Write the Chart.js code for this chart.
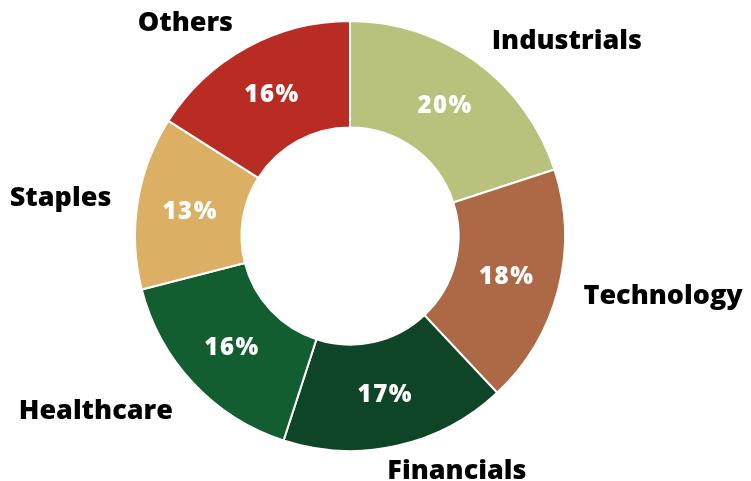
<!DOCTYPE html>
<html>
<head>
<meta charset="utf-8">
<script src="https://cdn.jsdelivr.net/npm/chart.js@4/dist/chart.umd.min.js"></script>
<style>
  html, body { margin: 0; padding: 0; background: #ffffff; }
  #wrap { width: 751px; height: 481px; position: relative; }
</style>
</head>
<body>
<div id="wrap"><canvas id="c" width="751" height="481"></canvas></div>
<script>
const categories = ["Industrials", "Technology", "Financials", "Healthcare", "Staples", "Others"];
const shares = [20, 18, 17, 16, 13, 16];
const sliceColors = ["#b8c27c", "#ad6946", "#0e4526", "#135e31", "#dbaf64", "#b92c24"];

const FONT = '"Open Sans", "Lato", sans-serif';

const labelPlugin = {
  id: 'sliceLabels',
  afterDatasetsDraw(chart) {
    const ctx = chart.ctx;
    const meta = chart.getDatasetMeta(0);
    const data = chart.data.datasets[0].data;
    const total = data.reduce((a, b) => a + b, 0);
    ctx.save();
    meta.data.forEach((arc, i) => {
      const mid = (arc.startAngle + arc.endAngle) / 2;
      const cos = Math.cos(mid), sin = Math.sin(mid);
      const rMid = (arc.innerRadius + arc.outerRadius) / 2;
      ctx.font = '800 24px ' + FONT;
      ctx.letterSpacing = '1.5px';
      ctx.fillStyle = '#ffffff';
      ctx.textAlign = 'left';
      ctx.textBaseline = 'middle';
      const pt = Math.round(data[i] / total * 100) + '%';
      const pw = ctx.measureText(pt).width;
      ctx.fillText(pt, arc.x + rMid * cos - pw / 2, arc.y + rMid * sin + 1);
      ctx.letterSpacing = '0px';
      const R = arc.outerRadius + 26 + 4 * Math.max(0, -cos) * Math.abs(sin);
      const ax = arc.x + R * cos;
      const ay = arc.y + R * sin + 18 * Math.max(0, sin) * Math.max(0, -cos);
      ctx.font = '800 27px ' + FONT;
      ctx.fillStyle = '#000000';
      const w = ctx.measureText(chart.data.labels[i]).width;
      const f = Math.max(0, Math.min(1, 0.5 - 1.79 * cos));
      ctx.fillText(chart.data.labels[i], ax - f * w, ay);
    });
    ctx.restore();
  }
};

new Chart(document.getElementById('c'), {
  type: 'doughnut',
  data: {
    labels: categories,
    datasets: [{
      data: shares,
      backgroundColor: sliceColors,
      borderColor: '#ffffff',
      borderWidth: 2
    }]
  },
  options: {
    responsive: false,
    animation: false,
    cutout: '50.5%',
    layout: { padding: { left: 134, right: 185, top: 20, bottom: 29 } },
    plugins: {
      legend: { display: false },
      tooltip: { enabled: false }
    }
  },
  plugins: [labelPlugin]
});
</script>
</body>
</html>
